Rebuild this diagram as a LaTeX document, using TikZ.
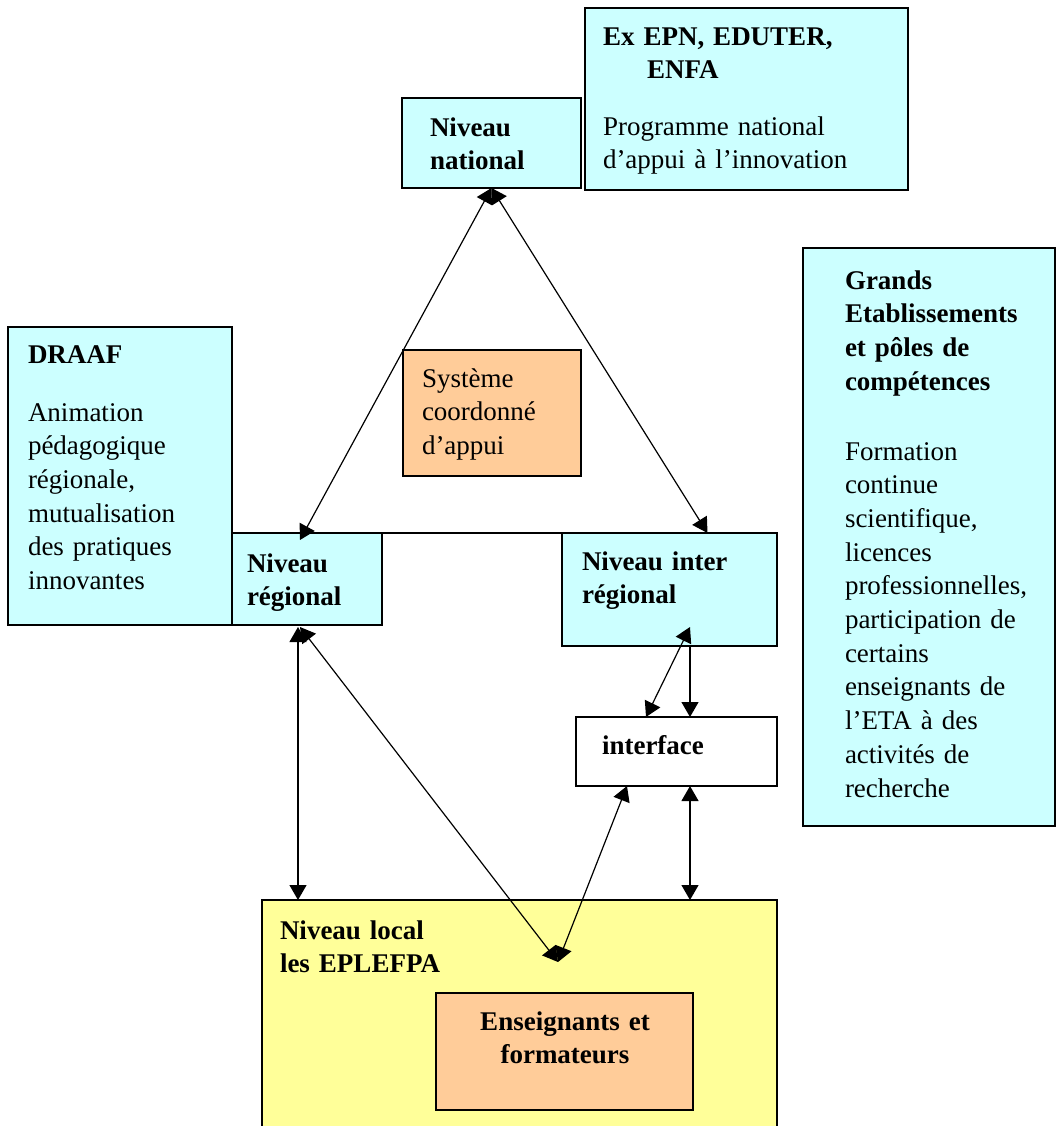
\documentclass[tikz,border=0pt]{standalone}
\usepackage{fontspec}
\setmainfont{Liberation Serif}
\usetikzlibrary{arrows.meta,fit}
\definecolor{boxcyan}{HTML}{CCFFFF}
\definecolor{boxorange}{HTML}{FFCC99}
\definecolor{boxyellow}{HTML}{FFFF99}
\begin{document}
\begin{tikzpicture}[x=0.5pt,y=-0.5pt,
  box/.style={draw=black, line width=0.75pt, inner sep=0pt, outer sep=0pt},
  cyanbox/.style={box, fill=boxcyan},
  orangebox/.style={box, fill=boxorange},
  yellowbox/.style={box, fill=boxyellow},
  whitebox/.style={box, fill=white},
  txt/.style={inner sep=0pt, outer sep=0pt, anchor=base west, align=left, text width=150pt,
    font=\fontsize{13.5}{16.85}\selectfont},
  btxt/.style={txt, font=\fontsize{13.5}{16.85}\selectfont\bfseries},
  conn/.style={line width=0.6pt, draw=black},
  dbl/.style={conn, {Triangle[length=7.5pt,width=8.5pt]}-{Triangle[length=7.5pt,width=8.5pt]}},
  sgl/.style={conn, -{Triangle[length=7.5pt,width=8.5pt]}}
]
\useasboundingbox (0,0) rectangle (1056,1126);

% boxes
\node[cyanbox, fit={(402,98) (581,188)}] (nat) {};
\node[cyanbox, fit={(585,8) (908,190)}] (ex) {};
\node[cyanbox, fit={(803,248) (1055,826)}] (grands) {};
\node[cyanbox, fit={(8,327) (232,625)}] (draaf) {};
\node[orangebox, fit={(403,350) (581,476)}] (sys) {};
\node[cyanbox, fit={(232,533) (382,625)}] (reg) {};
\node[cyanbox, fit={(562,533) (777,646)}] (inter) {};
\node[whitebox, fit={(576,717) (777,786)}] (iface) {};
\node[yellowbox, fit={(262,900) (777,1145)}] (loc) {};
\node[orangebox, fit={(436,993) (693,1110)}] (ens) {};

% texts
\node[btxt] (tnat) at (430,136) {Niveau\\national};
\node[btxt] (texh) at (603,45) {Ex EPN, EDUTER,\\\hspace*{22pt}ENFA};
\node[txt] (texb) at (603,135) {Programme national\\d’appui à l’innovation};
\node[btxt] (tgrh) at (845,289) {Grands\\Etablissements\\et pôles de\\compétences};
\node[txt] (tgrb) at (845,460) {Formation\\continue\\scientifique,\\licences\\professionnelles,\\participation de\\certains\\enseignants de\\l’ETA à des\\activités de\\recherche};
\node[btxt] (tdrh) at (28,363) {DRAAF};
\node[txt] (tdrb) at (28,421) {Animation\\pédagogique\\régionale,\\mutualisation\\des pratiques\\innovantes};
\node[txt] (tsys) at (422,387) {Système\\coordonné\\d’appui};
\node[btxt] (treg) at (247,572) {Niveau\\régional};
\node[btxt] (tint) at (582,570) {Niveau inter\\régional};
\node[btxt] (tifc) at (602,754) {interface};
\node[btxt] (tloc) at (280,939) {Niveau local\\les EPLEFPA};
\node[btxt, anchor=base, align=center, text width=120pt] (tens) at (565,1030) {Enseignants et\\formateurs};

% connectors
\coordinate (dm) at ([shift={(296,62)}]loc.north west);
\draw[conn] (reg.north east) -- (inter.north west);
\draw[dbl] (nat.south) -- ([shift={(-7,7)}]reg.north);
\draw[dbl] (nat.south) -- ([shift={(38,0)}]inter.north);
\draw[dbl] ([shift={(66,2)}]reg.south west) coordinate (r3) -- (r3 |- loc.north);
\draw[dbl] ([shift={(68,2)}]reg.south west) -- (dm);
\draw[dbl] (dm) -- ([shift={(51,0)}]iface.south west);
\draw[dbl] ([shift={(128,-19)}]inter.south west) -- ([shift={(70,0)}]iface.north west);
\draw[sgl] ([shift={(128,0)}]inter.south west) coordinate (i7) -- (i7 |- iface.north);
\draw[dbl] ([shift={(114,0)}]iface.south west) coordinate (i8) -- (i8 |- loc.north);
\end{tikzpicture}
\end{document}
